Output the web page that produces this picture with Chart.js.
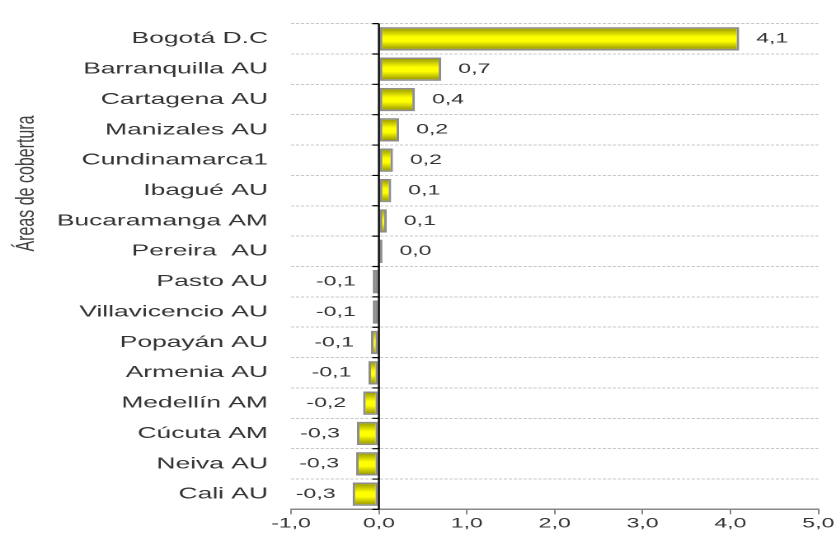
<!DOCTYPE html>
<html lang="es">
<head>
<meta charset="UTF-8">
<title>Áreas de cobertura</title>
<script src="https://cdn.jsdelivr.net/npm/chart.js"></script>
<style>
  body { margin: 0; background: #fff; }
</style>
</head>
<body>
<!-- the original picture is stretched sideways, so the canvas is drawn narrow and widened by CSS -->
<canvas id="areasChart" width="507" height="533" style="width:836px;height:533px"></canvas>

<script>
    const areas = ['Bogotá D.C', 'Barranquilla AU', 'Cartagena AU', 'Manizales AU', 'Cundinamarca1',
        'Ibagué AU', 'Bucaramanga AM', 'Pereira  AU', 'Pasto AU', 'Villavicencio AU', 'Popayán AU',
        'Armenia AU', 'Medellín AM', 'Cúcuta AM', 'Neiva AU', 'Cali AU'];
    const variacion = [4.1, 0.71, 0.41, 0.23, 0.16, 0.14, 0.09, 0.04,
        -0.07, -0.07, -0.09, -0.12, -0.18, -0.25, -0.26, -0.30];
    const axisTitle = 'Áreas de cobertura';

    const fmt = v => v.toFixed(1).replace('.', ',');
    const barPct = 0.77;

    Chart.defaults.font.family = "'Liberation Sans', Arial, sans-serif";
    Chart.defaults.color = '#333';

    // yellow bar with dark edges, one gradient per bar
    function barFill(ctx) {
        const chart = ctx.chart;
        const y = chart.scales.y;
        if (!y || ctx.dataIndex === undefined) return '#ffff00';
        const c = y.getPixelForValue(ctx.dataIndex);
        const h = y.height / areas.length * barPct / 2;
        if (!Number.isFinite(c) || !Number.isFinite(h) || h <= 0) return '#ffff00';
        const g = chart.ctx.createLinearGradient(0, c - h, 0, c + h);
        g.addColorStop(0, '#8e8e00');
        g.addColorStop(0.42, '#ffff00');
        g.addColorStop(0.6, '#ffff00');
        g.addColorStop(1, '#8a8a00');
        return g;
    }

    // value labels, zero line with its little ticks, rotated axis title
    const extras = {
        id: 'extras',
        afterDatasetsDraw(chart) {
            const ctx = chart.ctx;
            const x = chart.scales.x, y = chart.scales.y;
            const x0 = x.getPixelForValue(0);

            ctx.save();
            ctx.strokeStyle = '#000';
            ctx.lineWidth = 1.2;
            ctx.beginPath();
            ctx.moveTo(x0, chart.chartArea.top);
            ctx.lineTo(x0, chart.chartArea.bottom);
            const step = y.height / areas.length;
            for (let i = 0; i <= areas.length; i++) {
                const yy = chart.chartArea.top + i * step;
                ctx.moveTo(x0 - 4, yy);
                ctx.lineTo(x0, yy);
            }
            ctx.stroke();

            ctx.font = "14px 'Liberation Sans', Arial, sans-serif";
            ctx.fillStyle = '#333';
            ctx.textBaseline = 'middle';
            chart.getDatasetMeta(0).data.forEach((bar, i) => {
                const v = variacion[i];
                if (v >= 0) {
                    ctx.textAlign = 'left';
                    ctx.fillText(fmt(v), bar.x + 10.3, bar.y);
                } else {
                    ctx.textAlign = 'right';
                    ctx.fillText(fmt(v), bar.x - 10.3, bar.y);
                }
            });

            ctx.translate(16, 183.5);
            ctx.rotate(-Math.PI / 2);
            ctx.font = "16px 'Liberation Sans', Arial, sans-serif";
            ctx.fillStyle = '#404040';
            ctx.textAlign = 'center';
            ctx.fillText(axisTitle, 0, 0);
            ctx.restore();
        }
    };

    new Chart(document.getElementById('areasChart'), {
        type: 'bar',
        data: {
            labels: areas,
            datasets: [{
                data: variacion,
                backgroundColor: barFill,
                borderColor: '#8c8c8c',
                borderWidth: 1.6,
                borderSkipped: false,
                barPercentage: barPct,
                categoryPercentage: 1
            }]
        },
        options: {
            indexAxis: 'y',
            responsive: false,
            devicePixelRatio: 2,
            animation: false,
            layout: { padding: { top: 10, right: 10.3, left: 0, bottom: 0 } },
            plugins: { legend: { display: false }, tooltip: { enabled: false } },
            scales: {
                x: {
                    min: -1, max: 5,
                    ticks: { stepSize: 1, padding: 1, font: { size: 14 }, color: '#333',
                        callback: v => fmt(v) },
                    grid: { drawOnChartArea: false, tickLength: 5, tickColor: '#888' },
                    border: { color: '#888', width: 1.5 },
                    afterFit: s => { s.height = 23; }
                },
                y: {
                    ticks: { autoSkip: false, padding: 14, font: { size: 16 }, color: '#333' },
                    grid: { drawTicks: false, color: '#c8c8c8', lineWidth: 1 },
                    border: { display: false, dash: [2, 1] },
                    afterFit: s => { s.width = 176.5; }
                }
            }
        },
        plugins: [extras]
    });
</script>
</body>
</html>
